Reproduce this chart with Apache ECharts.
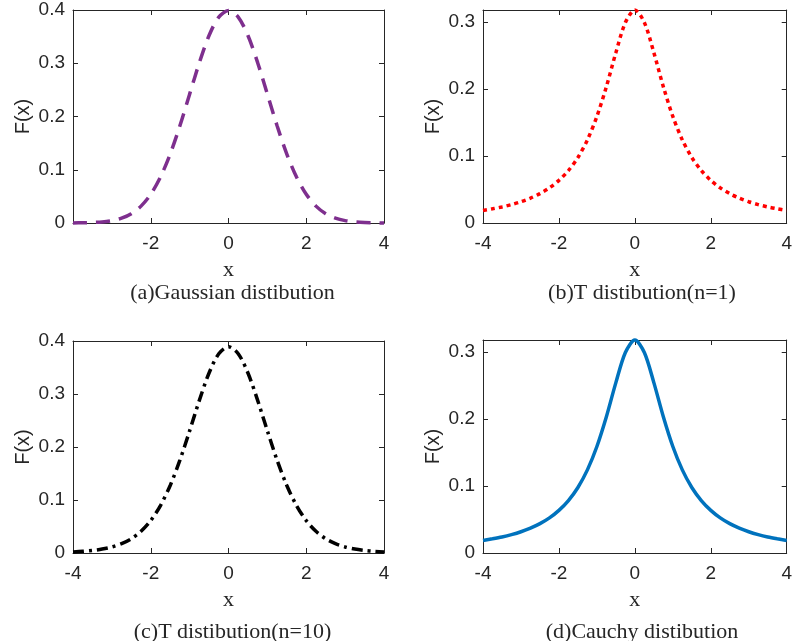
<!DOCTYPE html>
<html>
<head>
<meta charset="utf-8">
<script src="https://cdn.jsdelivr.net/npm/echarts@6/dist/echarts.min.js"></script>
<style>
  html, body { margin: 0; padding: 0; background: #fff; }
  #main { width: 795px; height: 641px; }
</style>
</head>
<body>
<div id="main"></div>
<script>
// x 取值 (-4 到 4, 步长 0.25)
var xValues = [-4, -3.75, -3.5, -3.25, -3, -2.75, -2.5, -2.25, -2, -1.75, -1.5, -1.25, -1, -0.75, -0.5, -0.25, 0,
    0.25, 0.5, 0.75, 1, 1.25, 1.5, 1.75, 2, 2.25, 2.5, 2.75, 3, 3.25, 3.5, 3.75, 4];
// (a) 高斯分布
var gaussValues = [0.0001, 0.0004, 0.0009, 0.0020, 0.0044, 0.0091, 0.0175, 0.0317, 0.0540, 0.0863, 0.1295, 0.1826, 0.2420, 0.3011, 0.3521, 0.3867, 0.3989,
    0.3867, 0.3521, 0.3011, 0.2420, 0.1826, 0.1295, 0.0863, 0.0540, 0.0317, 0.0175, 0.0091, 0.0044, 0.0020, 0.0009, 0.0004, 0.0001];
// (b) T 分布 n=1
var t1Values = [0.0187, 0.0212, 0.0240, 0.0275, 0.0318, 0.0372, 0.0439, 0.0525, 0.0637, 0.0784, 0.0979, 0.1242, 0.1592, 0.2037, 0.2546, 0.2996, 0.3183,
    0.2996, 0.2546, 0.2037, 0.1592, 0.1242, 0.0979, 0.0784, 0.0637, 0.0525, 0.0439, 0.0372, 0.0318, 0.0275, 0.0240, 0.0212, 0.0187];
// (c) T 分布 n=10
var t10Values = [0.0020, 0.0031, 0.0048, 0.0074, 0.0114, 0.0176, 0.0269, 0.0409, 0.0611, 0.0895, 0.1274, 0.1751, 0.2304, 0.2880, 0.3397, 0.3760, 0.3891,
    0.3760, 0.3397, 0.2880, 0.2304, 0.1751, 0.1274, 0.0895, 0.0611, 0.0409, 0.0269, 0.0176, 0.0114, 0.0074, 0.0048, 0.0031, 0.0020];
// (d) 柯西分布
var cauchyValues = [0.0187, 0.0212, 0.0240, 0.0275, 0.0318, 0.0372, 0.0439, 0.0525, 0.0637, 0.0784, 0.0979, 0.1242, 0.1592, 0.2037, 0.2546, 0.2996, 0.3183,
    0.2996, 0.2546, 0.2037, 0.1592, 0.1242, 0.0979, 0.0784, 0.0637, 0.0525, 0.0439, 0.0372, 0.0318, 0.0275, 0.0240, 0.0212, 0.0187];
// 子图标题
var captions = ['(a)Gaussian distibution', '(b)T distibution(n=1)', '(c)T distibution(n=10)', '(d)Cauchy distibution'];
// y 轴上限
var yMaxes = [0.4, 0.3183, 0.4, 0.3183];

var axisColor = '#262626';
var sansFont = '"Liberation Sans", Arial, sans-serif';
var serifFont = '"Liberation Serif", "Times New Roman", serif';

var grids = [
    { left: 73, top: 10, width: 311, height: 213 },
    { left: 483, top: 10, width: 310, height: 213 },
    { left: 73, top: 341, width: 311, height: 212 },
    { left: 483, top: 340, width: 310, height: 213 }
];
var seriesDefs = [
    { data: gaussValues, color: '#7E2F8E', type: [14, 9] },
    { data: t1Values, color: '#FF0000', type: [4, 4] },
    { data: t10Values, color: '#000000', type: [11, 5, 3, 5] },
    { data: cauchyValues, color: '#0072BD', type: 'solid' }
];

function pairs(vals) {
    var out = [];
    for (var i = 0; i < xValues.length; i++) {
        out.push([xValues[i], vals[i]]);
    }
    return out;
}

var xAxes = [], yAxes = [], series = [], titles = [];
for (var i = 0; i < 4; i++) {
    var g = grids[i];
    // 底部 x 轴
    xAxes.push({
        type: 'value', gridIndex: i, position: 'bottom', min: -4, max: 4, interval: 2,
        name: 'x', nameLocation: 'middle', nameGap: 36,
        nameTextStyle: { fontFamily: serifFont, fontSize: 22, color: axisColor },
        axisLine: { onZero: false, lineStyle: { color: axisColor, width: 1 } },
        axisTick: { inside: true, length: 5, lineStyle: { color: axisColor } },
        axisLabel: { fontFamily: sansFont, fontSize: 19, color: axisColor, margin: 11, showMinLabel: i != 0 },
        splitLine: { show: false }
    });
    // 顶部 x 轴 (只有刻度)
    xAxes.push({
        type: 'value', gridIndex: i, position: 'top', min: -4, max: 4, interval: 2,
        axisLine: { onZero: false, lineStyle: { color: axisColor, width: 1 } },
        axisTick: { inside: true, length: 5, lineStyle: { color: axisColor } },
        axisLabel: { show: false },
        splitLine: { show: false }
    });
    // 左侧 y 轴
    yAxes.push({
        type: 'value', gridIndex: i, position: 'left', min: 0, max: yMaxes[i], interval: 0.1,
        name: 'F(x)', nameLocation: 'middle', nameGap: 40, nameRotate: 90,
        nameTextStyle: { fontFamily: sansFont, fontSize: 20, color: axisColor },
        axisLine: { onZero: false, lineStyle: { color: axisColor, width: 1 } },
        axisTick: { inside: true, length: 5, lineStyle: { color: axisColor } },
        axisLabel: {
            fontFamily: sansFont, fontSize: 19, color: axisColor, margin: 8,
            showMaxLabel: yMaxes[i] == 0.4,
            formatter: function (v) { return v == 0 ? '0' : v.toFixed(1); }
        },
        splitLine: { show: false }
    });
    // 右侧 y 轴 (只有刻度)
    yAxes.push({
        type: 'value', gridIndex: i, position: 'right', min: 0, max: yMaxes[i], interval: 0.1,
        axisLine: { onZero: false, lineStyle: { color: axisColor, width: 1 } },
        axisTick: { inside: true, length: 5, lineStyle: { color: axisColor } },
        axisLabel: { show: false },
        splitLine: { show: false }
    });
    series.push({
        type: 'line', xAxisIndex: i * 2, yAxisIndex: i * 2, data: pairs(seriesDefs[i].data),
        smooth: 0.3, showSymbol: false, clip: false, silent: true,
        lineStyle: { color: seriesDefs[i].color, width: 3.5, type: seriesDefs[i].type, cap: 'butt' }
    });
    titles.push({
        text: captions[i], left: g.left + g.width / 2 - 1, top: i < 2 ? 277 : 616, textAlign: 'center',
        textStyle: { fontFamily: serifFont, fontSize: 22, fontWeight: 'normal', color: axisColor }
    });
}

var myChart = echarts.init(document.getElementById('main'));
var option = {
    animation: false,
    backgroundColor: '#ffffff',
    title: titles,
    grid: grids,
    xAxis: xAxes,
    yAxis: yAxes,
    series: series
};
myChart.setOption(option);
</script>
</body>
</html>
